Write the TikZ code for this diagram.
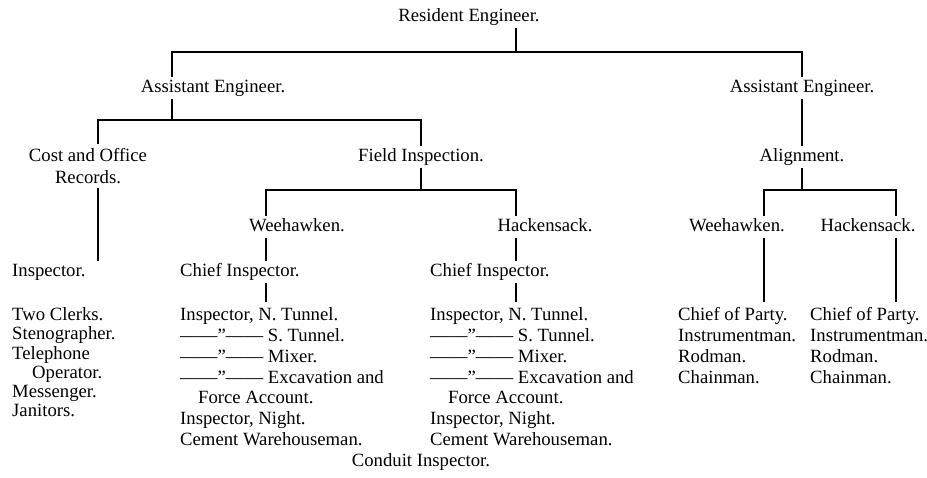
\documentclass[tikz,border=0pt]{standalone}
\usepackage{fontspec}
\setmainfont{Liberation Serif}
\usetikzlibrary{positioning,calc}
\newcommand{\tstrut}{\rule{0pt}{13.5pt}}

\begin{document}
\begin{tikzpicture}[
  x=1pt, y=-1pt,
  rank/.style={
    inner xsep=0pt,
    inner ysep=1.5pt,
    text height=13.5pt,
    text depth=5pt,
    anchor=base,
    font=\fontsize{18.7pt}{18.7pt}\selectfont
  },
  chief/.style={
    rank,
    anchor=base west
  },
  staff/.style={
    inner xsep=0pt,
    inner ysep=5pt,
    anchor=north west,
    align=left,
    font=\fontsize{18.7pt}{20.8pt}\selectfont
  },
  tline/.style={
    line width=2.5pt,
    draw=black
  }
]
  \useasboundingbox (0,0) rectangle (927,477);

  % --- Heads ---
  \node[rank] (res) at (469,21) {Resident Engineer.};
  \node[rank] (ae1) at (213,92) {Assistant Engineer.};
  \node[rank] (ae2) at (802,92) {Assistant Engineer.};

  % --- Departments ---
  \node[inner xsep=0pt, inner ysep=4pt, anchor=north, align=center, font=\fontsize{18.7pt}{22.5pt}\selectfont] (cost) at (88,143.5) {\tstrut Cost and Office\\Records.};
  \node[rank] (field) at (421,161) {Field Inspection.};
  \node[rank] (align) at (802,161) {Alignment.};

  % --- Divisions ---
  \node[rank] (wh1) at (297,231) {Weehawken.};
  \node[rank] (hk1) at (545,231) {Hackensack.};
  \node[rank] (wh2) at (737,231) {Weehawken.};
  \node[rank] (hk2) at (868,231) {Hackensack.};

  % --- Chiefs ---
  \node[chief] (insp) at (12,276) {Inspector.};
  \node[chief] (ci1) at (180,276) {Chief Inspector.};
  \node[chief] (ci2) at (430,276) {Chief Inspector.};

  % --- Staff lists ---
  \node[staff, font=\fontsize{18.7pt}{19.2pt}\selectfont] (office) at (12,302) {\tstrut Two Clerks.\\Stenographer.\\Telephone\\\hspace*{20pt}Operator.\\Messenger.\\Janitors.};
  \node[staff] (list1) at (180,302) {\tstrut Inspector, N. Tunnel.\\——”—— S. Tunnel.\\——”—— Mixer.\\——”—— Excavation and\\\hspace*{18pt}Force Account.\\Inspector, Night.\\Cement Warehouseman.};
  \node[staff] (list2) at (430,302) {\tstrut Inspector, N. Tunnel.\\——”—— S. Tunnel.\\——”—— Mixer.\\——”—— Excavation and\\\hspace*{18pt}Force Account.\\Inspector, Night.\\Cement Warehouseman.};
  \node[rank] (conduit) at (421,466) {Conduit Inspector.};
  \node[staff] (party1) at (678,302) {\tstrut Chief of Party.\\Instrumentman.\\Rodman.\\Chainman.};
  \node[staff] (party2) at (810,302) {\tstrut Chief of Party.\\Instrumentman.\\Rodman.\\Chainman.};

  % Bus junctions
  \coordinate (b0l) at (172,52);
  \coordinate (b0m) at (516,52);
  \coordinate (b0r) at (802,52);
  \coordinate (b1l) at (98,120);
  \coordinate (b1r) at (421,120);
  \coordinate (b2l) at (266,190);
  \coordinate (b2r) at (516,190);
  \coordinate (b3l) at (764,190);
  \coordinate (b3r) at (896,190);

  % Connecting lines
  \draw[tline] (res.south -| b0m) -- (b0m);
  \draw[tline] (ae1.north -| b0l) -- (b0l) -- (b0r) -- (ae2.north -| b0r);
  \draw[tline] (ae1.south -| b0l) -- (b0l |- b1l);
  \draw[tline] (cost.north -| b1l) -- (b1l) -- (b1r) -- (field.north -| b1r);
  \draw[tline] (cost.south -| b1l) -- (insp.north -| b1l);
  \draw[tline] (field.south -| b1r) -- (b1r |- b2l);
  \draw[tline] (wh1.north -| b2l) -- (b2l) -- (b2r) -- (hk1.north -| b2r);
  \draw[tline] (wh1.south -| b2l) -- (ci1.north -| b2l);
  \draw[tline] (hk1.south -| b2r) -- (ci2.north -| b2r);
  \draw[tline] (ci1.south -| b2l) -- (list1.north -| b2l);
  \draw[tline] (ci2.south -| b2r) -- (list2.north -| b2r);
  \draw[tline] (ae2.south) -- (align.north);
  \draw[tline] (align.south) -- (align.south |- b3l);
  \draw[tline] (wh2.north -| b3l) -- (b3l) -- (b3r) -- (hk2.north -| b3r);
  \draw[tline] (wh2.south -| b3l) -- (party1.north -| b3l);
  \draw[tline] (hk2.south -| b3r) -- (party2.north -| b3r);

\end{tikzpicture}
\end{document}
